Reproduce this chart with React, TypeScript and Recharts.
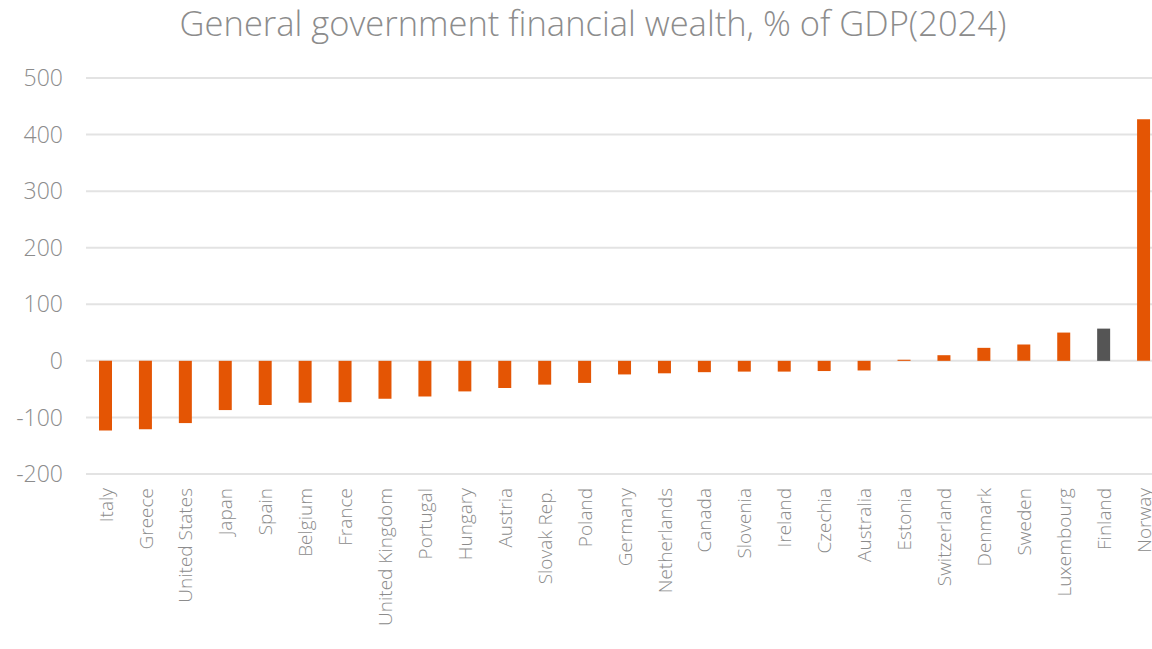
import { BarChart, Bar, XAxis, YAxis, CartesianGrid, Cell } from 'recharts';

const countries = [
  'Italy', 'Greece', 'United States', 'Japan', 'Spain', 'Belgium', 'France',
  'United Kingdom', 'Portugal', 'Hungary', 'Austria', 'Slovak Rep.', 'Poland',
  'Germany', 'Netherlands', 'Canada', 'Slovenia', 'Ireland', 'Czechia',
  'Australia', 'Estonia', 'Switzerland', 'Denmark', 'Sweden', 'Luxembourg',
  'Finland', 'Norway',
];

const wealth = [
  -123, -121, -110, -87, -78, -74, -73, -67, -63, -54, -48, -42, -39,
  -24, -22, -20, -19, -19, -18, -17, 2, 10, 23, 29, 50, 57, 427,
];

const yTicks = [-200, -100, 0, 100, 200, 300, 400, 500];

const highlight = 'Finland';
const ORANGE = '#e45504';
const GREY = '#555555';
const TEXT = '#8c8c8c';
const FONT = '"Open Sans", sans-serif';

const chartData = countries.map((name, i) => ({ name, value: wealth[i] }));

function CountryTick(props: any) {
  const { x, y, payload } = props;
  const ty = y + 6;
  return (
    <text
      x={x}
      y={ty}
      transform={`rotate(-90, ${x}, ${ty})`}
      textAnchor="end"
      dy="0.35em"
      fill={TEXT}
      fontSize={19}
      fontFamily={FONT}
      fontWeight={300}
    >
      {payload.value}
    </text>
  );
}

export default function App() {
  return (
    <div style={{ position: 'relative', width: 1186, height: 649 }}>
      <style>{`body{margin:0;overflow:hidden}`}</style>
      <div
        style={{
          position: 'absolute',
          top: -1,
          left: 0,
          width: 1186,
          textAlign: 'center',
          fontFamily: FONT,
          fontWeight: 300,
          fontSize: 34.5,
          color: TEXT,
          whiteSpace: 'nowrap',
        }}
      >
        General government financial wealth, % of GDP(2024)
      </div>
      <BarChart
        width={1164}
        height={649}
        data={chartData}
        margin={{ top: 78, right: 0, bottom: 0, left: 0 }}
      >
        <CartesianGrid vertical={false} stroke="#e3e3e3" strokeWidth={2} />
        <XAxis
          dataKey="name"
          axisLine={false}
          tickLine={false}
          interval={0}
          height={175}
          tick={<CountryTick />}
        />
        <YAxis
          domain={[-200, 500]}
          ticks={yTicks}
          axisLine={false}
          tickLine={false}
          width={86}
          tickMargin={17}
          tick={{ fill: TEXT, fontSize: 23, fontFamily: FONT, fontWeight: 300 }}
        />
        <Bar dataKey="value" barSize={13} isAnimationActive={false}>
          {chartData.map((d) => (
            <Cell key={d.name} fill={d.name === highlight ? GREY : ORANGE} />
          ))}
        </Bar>
      </BarChart>
    </div>
  );
}
